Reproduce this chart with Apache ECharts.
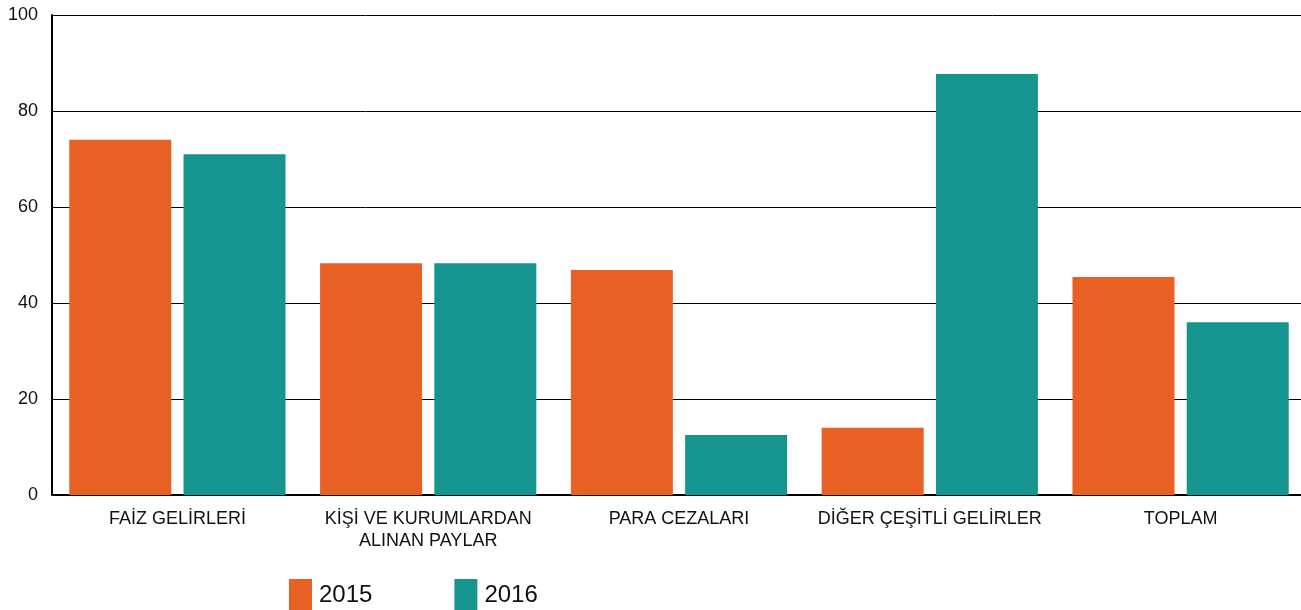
<!DOCTYPE html>
<html>
<head>
<meta charset="utf-8">
<script src="https://cdn.jsdelivr.net/npm/echarts@6.0.0/dist/echarts.min.js"></script>
<style>
  html, body { margin: 0; padding: 0; background: #fff; overflow: hidden; }
  /* canvas slightly wider than the window: the plot runs past the right edge */
  #myChart { width: 1306px; height: 610px; }
</style>
</head>
<body>
<div id="myChart"></div>
<script>
const categories = ["FAİZ GELİRLERİ", "KİŞİ VE KURUMLARDAN\nALINAN PAYLAR", "PARA CEZALARI", "DİĞER ÇEŞİTLİ GELİRLER", "TOPLAM"];
const values2015 = [74, 48.3, 46.9, 14, 45.4];
const values2016 = [71, 48.3, 12.5, 87.7, 36];
const yTicks = [0, 20, 40, 60, 80, 100];

let myChart = echarts.init(document.getElementById("myChart"));
let option = {
  animation: false,
  textStyle: { fontFamily: "Liberation Sans, Arial, sans-serif" },
  legend: {
    left: 284,
    top: 574,
    icon: "rect",
    itemWidth: 23,
    itemHeight: 32,
    itemGap: 82,
    textStyle: { fontSize: 24, color: "#111", fontFamily: "Liberation Sans", padding: [7, 0, 0, 2] },
    data: ["2015", "2016"]
  },
  grid: { left: 52, right: 0, top: 15, bottom: 115, containLabel: false },
  xAxis: {
    type: "category",
    data: categories,
    axisTick: { show: false },
    axisLine: { lineStyle: { color: "#000", width: 2 } },
    axisLabel: {
      interval: 0,
      margin: 13,
      fontSize: 18,
      lineHeight: 22,
      color: "#111",
      fontFamily: "Liberation Sans"
    }
  },
  yAxis: {
    type: "value",
    min: yTicks[0],
    max: yTicks[yTicks.length - 1],
    interval: 20,
    axisLine: { show: true, lineStyle: { color: "#000", width: 2 } },
    axisTick: { show: false },
    splitLine: { lineStyle: { color: "#000", width: 1 } },
    axisLabel: { margin: 14, fontSize: 18, color: "#111", fontFamily: "Liberation Sans" }
  },
  series: [
    {
      name: "2015",
      type: "bar",
      data: values2015,
      itemStyle: { color: "#E86024" },
      barWidth: 102,
      barGap: "12%",
      barCategoryGap: "13.6%"
    },
    {
      name: "2016",
      type: "bar",
      data: values2016,
      itemStyle: { color: "#169490" },
      barWidth: 102,
      barGap: "12%"
    }
  ]
};
myChart.setOption(option);
</script>
</body>
</html>
